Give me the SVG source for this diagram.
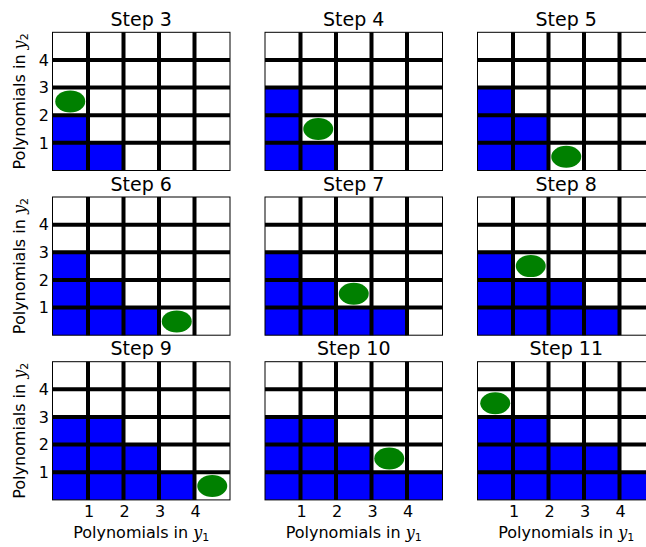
<svg xmlns="http://www.w3.org/2000/svg" xmlns:xlink="http://www.w3.org/1999/xlink" width="646" height="547" viewBox="0 0 646 547">
<style>
text{font-family:"DejaVu Sans","Liberation Sans",sans-serif;fill:#000}
.t{font-size:19px;text-anchor:middle}
.k{font-size:16px}
.ky{text-anchor:end}
.kx{text-anchor:middle}
.l{font-size:16px;text-anchor:middle}
.m{font-family:"DejaVu Serif","Liberation Serif",serif;font-style:italic}
.s{font-family:"DejaVu Sans",sans-serif;font-size:11px;font-style:normal}
</style>
<defs>
<rect id="c" width="35.5" height="27.64" fill="#0000ff"/>
<ellipse id="d" cx="0" cy="0" rx="15" ry="11" fill="#008000"/>
<g id="grid">
<rect x="0" y="0" width="177.5" height="138.2" fill="none" stroke="#000" stroke-width="1"/>
<path d="M35.5 0V138.2M71 0V138.2M106.5 0V138.2M142 0V138.2M0 27.64H177.5M0 55.28H177.5M0 82.92H177.5M0 110.56H177.5" stroke="#000" stroke-width="4" fill="none"/>
</g>
<g id="yt">
<text class="k ky" x="-3.5" y="116.4">1</text>
<text class="k ky" x="-3.5" y="88.7">2</text>
<text class="k ky" x="-3.5" y="61.1">3</text>
<text class="k ky" x="-3.5" y="33.4">4</text>
<text class="l" transform="translate(-27.9,69.1) rotate(-90)">Polynomials in <tspan class="m">y</tspan><tspan class="s" dy="3">2</tspan></text>
</g>
<g id="xt">
<text class="k kx" x="36.5" y="155.7">1</text>
<text class="k kx" x="72" y="155.7">2</text>
<text class="k kx" x="107.5" y="155.7">3</text>
<text class="k kx" x="143" y="155.7">4</text>
<text class="l" x="88.75" y="176.6">Polynomials in <tspan class="m">y</tspan><tspan class="s" dy="3">1</tspan></text>
</g>
</defs>
<rect x="0" y="0" width="646" height="547" fill="#fff"/>

<g id="step3" transform="translate(52.5,32.3)">
<text class="t" x="88.75" y="-6.3">Step 3</text>
<use xlink:href="#c" x="0" y="110.56"/><use xlink:href="#c" x="35.5" y="110.56"/>
<use xlink:href="#c" x="0" y="82.92"/>
<use xlink:href="#d" x="17.75" y="69.1"/>
<use xlink:href="#grid"/>
<use xlink:href="#yt"/>
</g>

<g id="step4" transform="translate(265,32.3)">
<text class="t" x="88.75" y="-6.3">Step 4</text>
<use xlink:href="#c" x="0" y="110.56"/><use xlink:href="#c" x="35.5" y="110.56"/>
<use xlink:href="#c" x="0" y="82.92"/>
<use xlink:href="#c" x="0" y="55.28"/>
<use xlink:href="#d" x="53.25" y="96.74"/>
<use xlink:href="#grid"/>
</g>

<g id="step5" transform="translate(477.5,32.3)">
<text class="t" x="88.75" y="-6.3">Step 5</text>
<use xlink:href="#c" x="0" y="110.56"/><use xlink:href="#c" x="35.5" y="110.56"/>
<use xlink:href="#c" x="0" y="82.92"/><use xlink:href="#c" x="35.5" y="82.92"/>
<use xlink:href="#c" x="0" y="55.28"/>
<use xlink:href="#d" x="88.75" y="124.38"/>
<use xlink:href="#grid"/>
</g>

<g id="step6" transform="translate(52.5,197)">
<text class="t" x="88.75" y="-6.3">Step 6</text>
<use xlink:href="#c" x="0" y="110.56"/><use xlink:href="#c" x="35.5" y="110.56"/><use xlink:href="#c" x="71" y="110.56"/>
<use xlink:href="#c" x="0" y="82.92"/><use xlink:href="#c" x="35.5" y="82.92"/>
<use xlink:href="#c" x="0" y="55.28"/>
<use xlink:href="#d" x="124.25" y="124.38"/>
<use xlink:href="#grid"/>
<use xlink:href="#yt"/>
</g>

<g id="step7" transform="translate(265,197)">
<text class="t" x="88.75" y="-6.3">Step 7</text>
<use xlink:href="#c" x="0" y="110.56"/><use xlink:href="#c" x="35.5" y="110.56"/><use xlink:href="#c" x="71" y="110.56"/><use xlink:href="#c" x="106.5" y="110.56"/>
<use xlink:href="#c" x="0" y="82.92"/><use xlink:href="#c" x="35.5" y="82.92"/>
<use xlink:href="#c" x="0" y="55.28"/>
<use xlink:href="#d" x="88.75" y="96.74"/>
<use xlink:href="#grid"/>
</g>

<g id="step8" transform="translate(477.5,197)">
<text class="t" x="88.75" y="-6.3">Step 8</text>
<use xlink:href="#c" x="0" y="110.56"/><use xlink:href="#c" x="35.5" y="110.56"/><use xlink:href="#c" x="71" y="110.56"/><use xlink:href="#c" x="106.5" y="110.56"/>
<use xlink:href="#c" x="0" y="82.92"/><use xlink:href="#c" x="35.5" y="82.92"/><use xlink:href="#c" x="71" y="82.92"/>
<use xlink:href="#c" x="0" y="55.28"/>
<use xlink:href="#d" x="53.25" y="69.1"/>
<use xlink:href="#grid"/>
</g>

<g id="step9" transform="translate(52.5,361.7)">
<text class="t" x="88.75" y="-6.3">Step 9</text>
<use xlink:href="#c" x="0" y="110.56"/><use xlink:href="#c" x="35.5" y="110.56"/><use xlink:href="#c" x="71" y="110.56"/><use xlink:href="#c" x="106.5" y="110.56"/>
<use xlink:href="#c" x="0" y="82.92"/><use xlink:href="#c" x="35.5" y="82.92"/><use xlink:href="#c" x="71" y="82.92"/>
<use xlink:href="#c" x="0" y="55.28"/><use xlink:href="#c" x="35.5" y="55.28"/>
<use xlink:href="#d" x="159.75" y="124.38"/>
<use xlink:href="#grid"/>
<use xlink:href="#yt"/>
<use xlink:href="#xt"/>
</g>

<g id="step10" transform="translate(265,361.7)">
<text class="t" x="88.75" y="-6.3">Step 10</text>
<use xlink:href="#c" x="0" y="110.56"/><use xlink:href="#c" x="35.5" y="110.56"/><use xlink:href="#c" x="71" y="110.56"/><use xlink:href="#c" x="106.5" y="110.56"/><use xlink:href="#c" x="142" y="110.56"/>
<use xlink:href="#c" x="0" y="82.92"/><use xlink:href="#c" x="35.5" y="82.92"/><use xlink:href="#c" x="71" y="82.92"/>
<use xlink:href="#c" x="0" y="55.28"/><use xlink:href="#c" x="35.5" y="55.28"/>
<use xlink:href="#d" x="124.25" y="96.74"/>
<use xlink:href="#grid"/>
<use xlink:href="#xt"/>
</g>

<g id="step11" transform="translate(477.5,361.7)">
<text class="t" x="88.75" y="-6.3">Step 11</text>
<use xlink:href="#c" x="0" y="110.56"/><use xlink:href="#c" x="35.5" y="110.56"/><use xlink:href="#c" x="71" y="110.56"/><use xlink:href="#c" x="106.5" y="110.56"/><use xlink:href="#c" x="142" y="110.56"/>
<use xlink:href="#c" x="0" y="82.92"/><use xlink:href="#c" x="35.5" y="82.92"/><use xlink:href="#c" x="71" y="82.92"/><use xlink:href="#c" x="106.5" y="82.92"/>
<use xlink:href="#c" x="0" y="55.28"/><use xlink:href="#c" x="35.5" y="55.28"/>
<use xlink:href="#d" x="17.75" y="41.46"/>
<use xlink:href="#grid"/>
<use xlink:href="#xt"/>
</g>
<g id="connectors"/>
</svg>
